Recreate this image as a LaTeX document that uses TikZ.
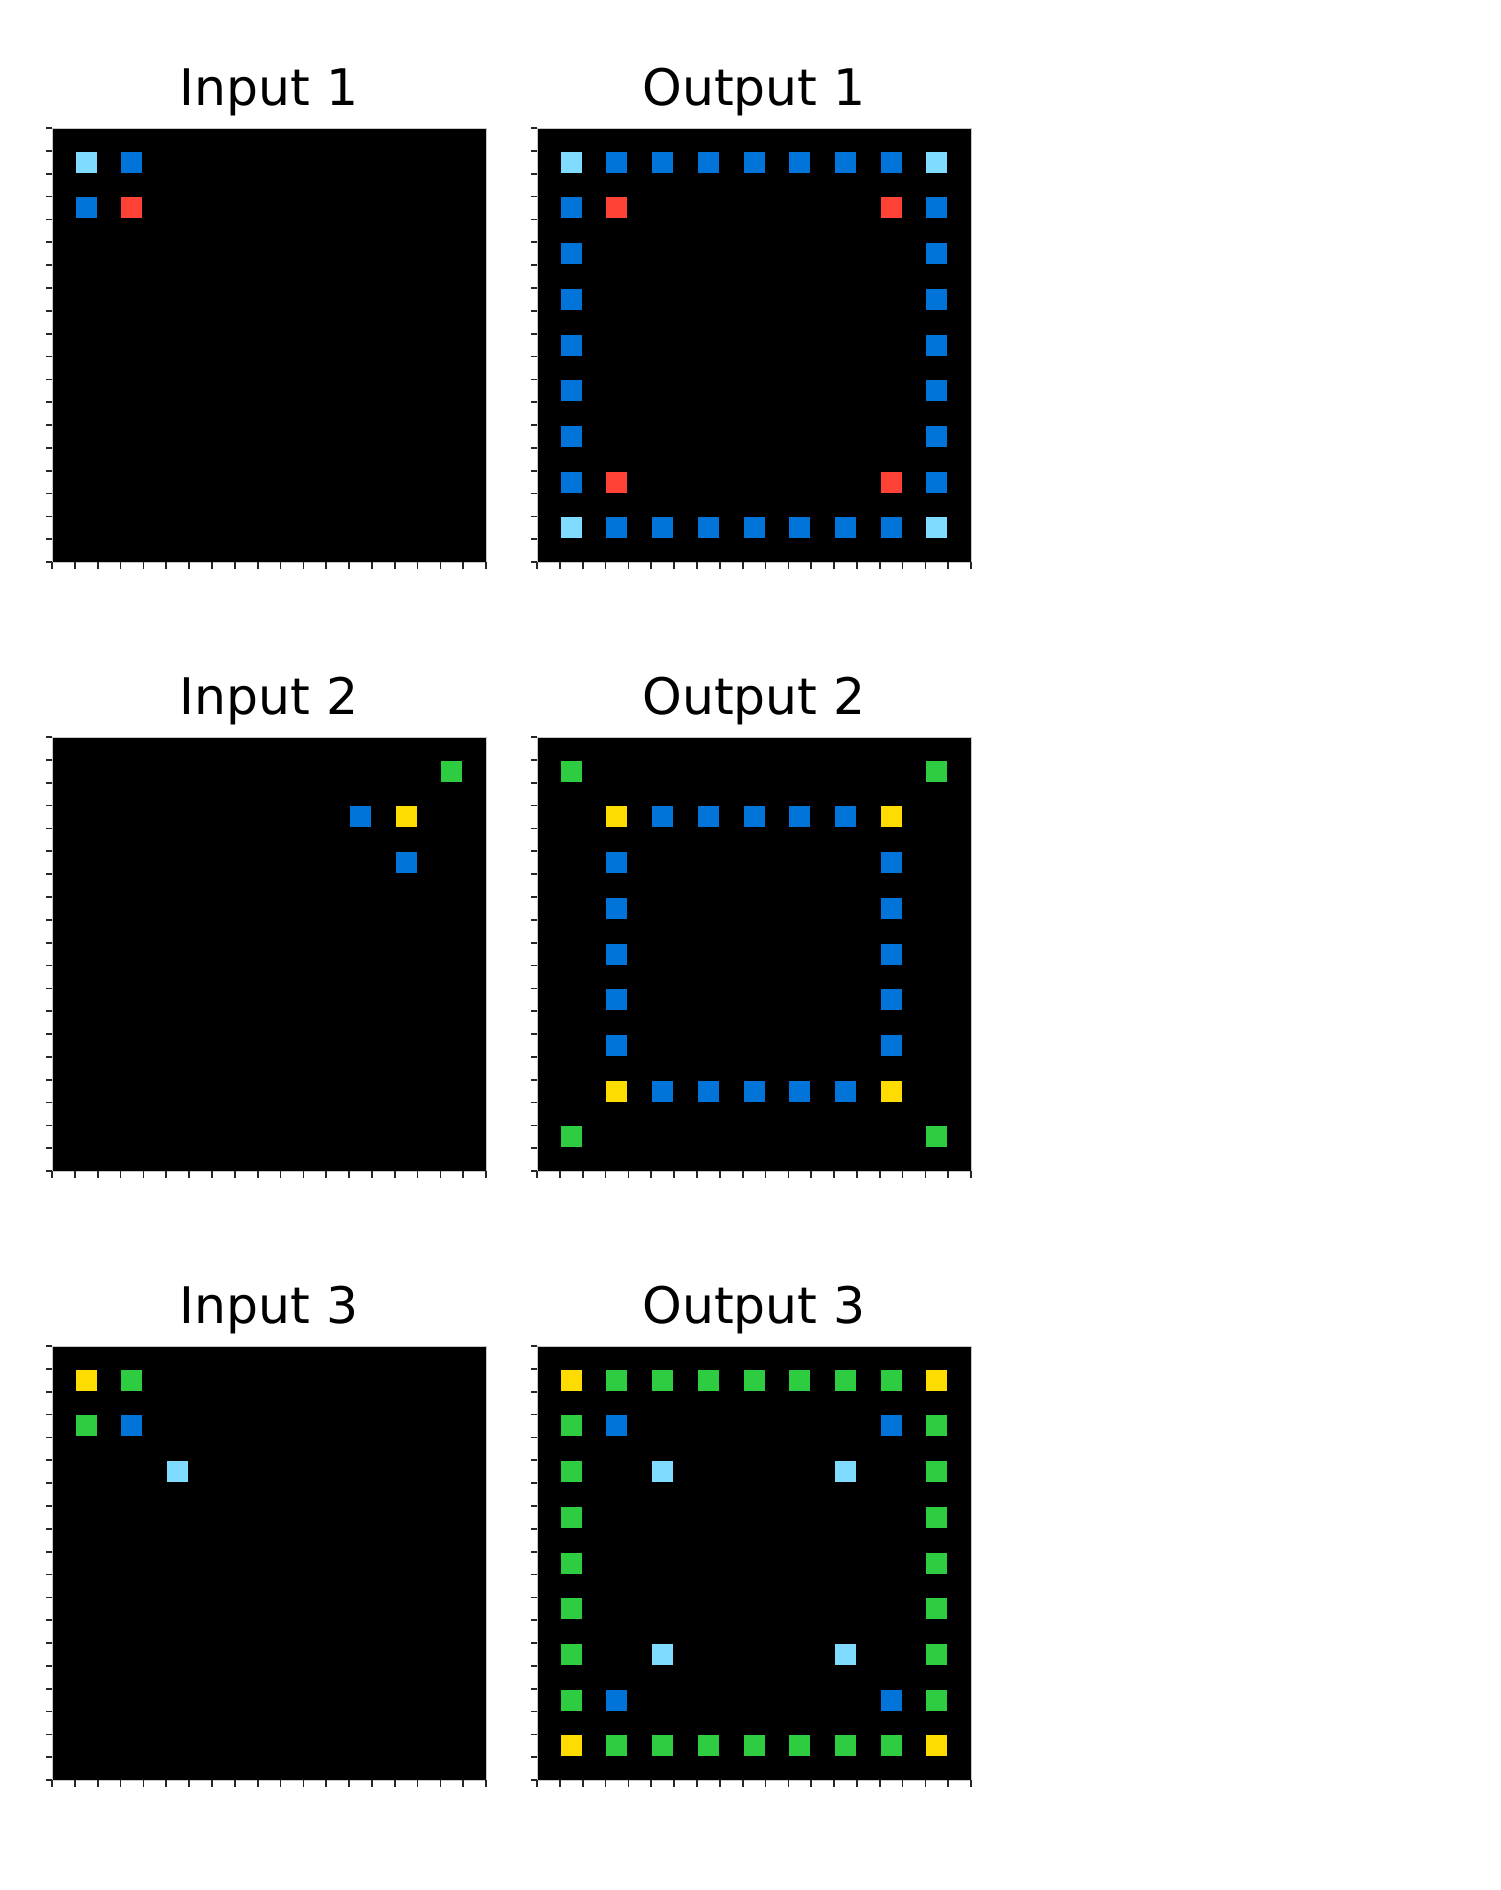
\documentclass[tikz,border=0pt]{standalone}
\usepackage{fontspec}
\setmainfont{DejaVu Sans}
\definecolor{arcB}{HTML}{0074D9}
\definecolor{arcR}{HTML}{FF4136}
\definecolor{arcG}{HTML}{2ECC40}
\definecolor{arcY}{HTML}{FFDC00}
\definecolor{arcL}{HTML}{7FDBFF}
\definecolor{spinecol}{HTML}{C8C8C8}
\begin{document}
\begin{tikzpicture}[x=0.5pt,y=-0.5pt,
  tickstyle/.style={line width=0.85pt, black!85},
  spinestyle/.style={line width=0.5pt, spinecol},
  titlestyle/.style={anchor=base, inner sep=0pt, font=\fontsize{25.2}{30}\selectfont}]
\useasboundingbox (0,0) rectangle (1500,1890);
\def\gu{22.85}
\newcommand\arcpanel[4]{%
  \fill[black] (#1,#2) rectangle ++({19*\gu},{19*\gu});
  \draw[spinestyle] (#1,#2) rectangle ++({19*\gu},{19*\gu});
  \foreach \k in {0,...,19} {
    \draw[tickstyle] ({#1+\k*\gu},{#2+19*\gu}) -- ++(0,7);
    \draw[tickstyle] (#1,{#2+\k*\gu}) -- ++(-6,0);
  }
  \node[titlestyle] (#3) at ({#1+9.5*\gu},{#2-23}) {#4};
}
\newcommand\cell[3]{\fill[#3] ({\px+(2*#1+1.5)*\gu-10.5},{\py+(2*#2+1.5)*\gu-10.5}) rectangle ++(21,21);}

% Row 1
\arcpanel{52}{128}{in1}{Input 1}
\def\px{52}\def\py{128}
\cell{0}{0}{arcL}\cell{1}{0}{arcB}\cell{0}{1}{arcB}\cell{1}{1}{arcR}

\arcpanel{537}{128}{out1}{Output 1}
\def\px{537}\def\py{128}
\foreach \i in {1,...,7} {\cell{\i}{0}{arcB}\cell{\i}{8}{arcB}\cell{0}{\i}{arcB}\cell{8}{\i}{arcB}}
\cell{0}{0}{arcL}\cell{8}{0}{arcL}\cell{0}{8}{arcL}\cell{8}{8}{arcL}
\cell{1}{1}{arcR}\cell{7}{1}{arcR}\cell{1}{7}{arcR}\cell{7}{7}{arcR}

% Row 2
\arcpanel{52}{737}{in2}{Input 2}
\def\px{52}\def\py{737}
\cell{8}{0}{arcG}\cell{6}{1}{arcB}\cell{7}{1}{arcY}\cell{7}{2}{arcB}

\arcpanel{537}{737}{out2}{Output 2}
\def\px{537}\def\py{737}
\cell{0}{0}{arcG}\cell{8}{0}{arcG}\cell{0}{8}{arcG}\cell{8}{8}{arcG}
\cell{1}{1}{arcY}\cell{7}{1}{arcY}\cell{1}{7}{arcY}\cell{7}{7}{arcY}
\foreach \i in {2,...,6} {\cell{\i}{1}{arcB}\cell{\i}{7}{arcB}\cell{1}{\i}{arcB}\cell{7}{\i}{arcB}}

% Row 3
\arcpanel{52}{1346}{in3}{Input 3}
\def\px{52}\def\py{1346}
\cell{0}{0}{arcY}\cell{1}{0}{arcG}\cell{0}{1}{arcG}\cell{1}{1}{arcB}\cell{2}{2}{arcL}

\arcpanel{537}{1346}{out3}{Output 3}
\def\px{537}\def\py{1346}
\foreach \i in {1,...,7} {\cell{\i}{0}{arcG}\cell{\i}{8}{arcG}\cell{0}{\i}{arcG}\cell{8}{\i}{arcG}}
\cell{0}{0}{arcY}\cell{8}{0}{arcY}\cell{0}{8}{arcY}\cell{8}{8}{arcY}
\cell{1}{1}{arcB}\cell{7}{1}{arcB}\cell{1}{7}{arcB}\cell{7}{7}{arcB}
\cell{2}{2}{arcL}\cell{6}{2}{arcL}\cell{2}{6}{arcL}\cell{6}{6}{arcL}
\end{tikzpicture}
\end{document}
